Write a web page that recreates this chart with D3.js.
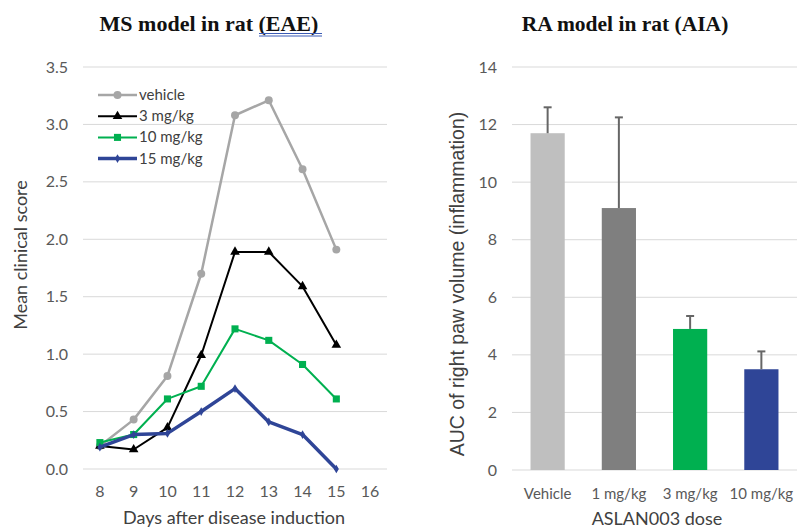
<!DOCTYPE html>
<html>
<head>
<meta charset="utf-8">
<script src="https://cdn.jsdelivr.net/npm/d3@7"></script>
<style>
  body { margin: 0; background: #fff; }
  svg { display: block; }
  .tick text { font-family: Lato, sans-serif; fill: #595959; }
  .title { font-family: "Liberation Serif", serif; font-weight: bold; font-size: 21.5px; fill: #111; }
  .axis-title { font-family: Lato, sans-serif; font-size: 18px; fill: #404040; }
  .legend text { font-family: Lato, sans-serif; font-size: 15px; fill: #404040; }
</style>
</head>
<body>
<svg width="799" height="528"></svg>
<script>
// данные левого графика (EAE)
const days = ["8", "9", "10", "11", "12", "13", "14", "15", "16"];
const seriesNames = ["vehicle", "3 mg/kg", "10 mg/kg", "15 mg/kg"];
const vehicle = [0.2, 0.43, 0.81, 1.70, 3.08, 3.21, 2.61, 1.91];
const mg3 = [0.2, 0.17, 0.36, 0.99, 1.89, 1.89, 1.59, 1.08];
const mg10 = [0.23, 0.30, 0.61, 0.72, 1.22, 1.12, 0.91, 0.61];
const mg15 = [0.19, 0.30, 0.31, 0.50, 0.70, 0.41, 0.30, 0.0];
const scoreTicks = [0, 0.5, 1.0, 1.5, 2.0, 2.5, 3.0, 3.5];

// данные правого графика (AIA)
const doses = ["Vehicle", "1 mg/kg", "3 mg/kg", "10 mg/kg"];
const auc = [11.7, 9.1, 4.9, 3.5];
const aucErr = [0.9, 3.15, 0.45, 0.62];
const aucTicks = [0, 2, 4, 6, 8, 10, 12, 14];

const svg = d3.select("svg");

// ---------- левый график ----------
const xL = d3.scaleBand().domain(days).range([83, 387]);
const yL = d3.scaleLinear().domain([0, 3.5]).range([469, 67]);

svg.append("text").attr("class", "title")
  .attr("x", 209).attr("y", 31).attr("text-anchor", "middle")
  .style("font-size", "22px")
  .text("MS model in rat (EAE)");
// двойное подчёркивание под "EAE)"
svg.append("line").attr("x1", 259).attr("x2", 322).attr("y1", 33.5).attr("y2", 33.5)
  .attr("stroke", "#3b5bb5").attr("stroke-width", 1);
svg.append("line").attr("x1", 259).attr("x2", 322).attr("y1", 36).attr("y2", 36)
  .attr("stroke", "#3b5bb5").attr("stroke-width", 1);

// сетка
svg.append("g").selectAll("line").data(scoreTicks).enter().append("line")
  .attr("x1", 83).attr("x2", 387)
  .attr("y1", (d) => yL(d)).attr("y2", (d) => yL(d))
  .attr("stroke", "#d9d9d9").attr("stroke-width", 1);

const axisYL = d3.axisLeft(yL).tickValues(scoreTicks).tickFormat(d3.format(".1f")).tickSize(0).tickPadding(15);
svg.append("g").attr("transform", "translate(83,0)").call(axisYL)
  .call((g) => g.select(".domain").remove())
  .selectAll("text").style("font-size", "16px");

const axisXL = d3.axisBottom(xL).tickSize(0).tickPadding(17);
svg.append("g").attr("transform", "translate(0,469)").call(axisXL)
  .call((g) => g.select(".domain").remove())
  .selectAll("text").style("font-size", "16px");

svg.append("text").attr("class", "axis-title")
  .attr("x", 234).attr("y", 524).attr("text-anchor", "middle")
  .text("Days after disease induction");
svg.append("text").attr("class", "axis-title")
  .attr("transform", "translate(27,255) rotate(-90)").attr("text-anchor", "middle")
  .text("Mean clinical score");

const series = [
  { name: seriesNames[0], values: vehicle, color: "#a6a6a6", width: 2.5, symbol: d3.symbolCircle, size: 50 },
  { name: seriesNames[1], values: mg3, color: "#000000", width: 2, symbol: d3.symbolTriangle, size: 40 },
  { name: seriesNames[2], values: mg10, color: "#00b050", width: 2, symbol: d3.symbolSquare, size: 50 },
  { name: seriesNames[3], values: mg15, color: "#2f4597", width: 3.5, symbol: d3.symbolDiamond, size: 22 }
];

const line = d3.line()
  .x((d, i) => xL(days[i]) + xL.bandwidth() / 2)
  .y((d) => yL(d));

series.forEach(function (s) {
  svg.append("path").datum(s.values)
    .attr("d", line).attr("fill", "none")
    .attr("stroke", s.color).attr("stroke-width", s.width)
    .attr("stroke-linejoin", "round");
  svg.append("g").selectAll("path").data(s.values).enter().append("path")
    .attr("d", d3.symbol().type(s.symbol).size(s.size))
    .attr("transform", (d, i) => `translate(${xL(days[i]) + xL.bandwidth() / 2},${yL(d)})`)
    .attr("fill", s.color);
});

// легенда
const legend = svg.append("g").attr("class", "legend");
series.forEach(function (s, i) {
  let y = 95 + i * 21.2;
  legend.append("line").attr("x1", 98).attr("x2", 137).attr("y1", y).attr("y2", y)
    .attr("stroke", s.color).attr("stroke-width", s.width);
  legend.append("path").attr("d", d3.symbol().type(s.symbol).size(s.size))
    .attr("transform", `translate(117.5,${y})`).attr("fill", s.color);
  legend.append("text").attr("x", 139).attr("y", y + 5).text(s.name);
});

// ---------- правый график ----------
const xR = d3.scaleBand().domain(doses).range([512, 797]).paddingInner(0.52).paddingOuter(0.26);
const yR = d3.scaleLinear().domain([0, 14]).range([470, 67]);
const barColors = ["#bfbfbf", "#7f7f7f", "#00b050", "#2f4597"];

svg.append("text").attr("class", "title")
  .attr("x", 625).attr("y", 31).attr("text-anchor", "middle")
  .text("RA model in rat (AIA)");

svg.append("g").selectAll("line").data(aucTicks).enter().append("line")
  .attr("x1", 512).attr("x2", 797)
  .attr("y1", (d) => yR(d)).attr("y2", (d) => yR(d))
  .attr("stroke", "#d9d9d9").attr("stroke-width", 1);

const axisYR = d3.axisLeft(yR).tickValues(aucTicks).tickSize(0).tickPadding(15);
svg.append("g").attr("transform", "translate(512,0)").call(axisYR)
  .call((g) => g.select(".domain").remove())
  .selectAll("text").style("font-size", "16px");

const axisXR = d3.axisBottom(xR).tickSize(0).tickPadding(18);
svg.append("g").attr("transform", "translate(0,470)").call(axisXR)
  .call((g) => g.select(".domain").remove())
  .selectAll("text").style("font-size", "15px");

svg.append("text").attr("class", "axis-title")
  .attr("x", 657).attr("y", 525).attr("text-anchor", "middle")
  .text("ASLAN003 dose");
svg.append("text").attr("class", "axis-title")
  .attr("transform", "translate(464,284) rotate(-90)").attr("text-anchor", "middle")
  .style("font-family", "'Liberation Sans', Arial, sans-serif").style("font-size", "19.5px")
  .text("AUC of right paw volume (inflammation)");

// столбцы
svg.append("g").selectAll("rect").data(auc).enter().append("rect")
  .attr("x", (d, i) => xR(doses[i]))
  .attr("y", (d) => yR(d))
  .attr("width", xR.bandwidth())
  .attr("height", (d) => yR(0) - yR(d))
  .attr("fill", (d, i) => barColors[i]);

// планки погрешностей
const err = svg.append("g").attr("stroke", "#666666").attr("stroke-width", 2);
auc.forEach(function (v, i) {
  let cx = xR(doses[i]) + xR.bandwidth() / 2;
  err.append("line").attr("x1", cx).attr("x2", cx)
    .attr("y1", yR(v)).attr("y2", yR(v + aucErr[i]));
  err.append("line").attr("x1", cx - 4).attr("x2", cx + 4)
    .attr("y1", yR(v + aucErr[i])).attr("y2", yR(v + aucErr[i]));
});
</script>
</body>
</html>
